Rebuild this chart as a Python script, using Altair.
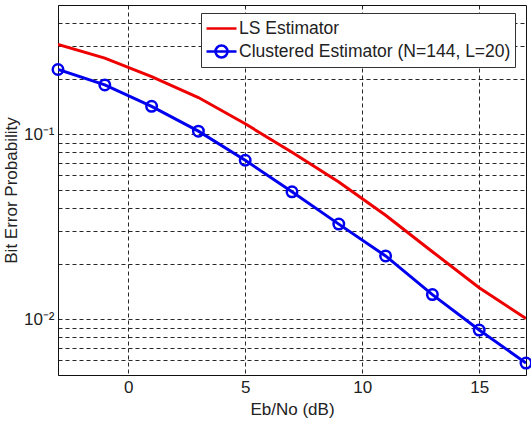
import altair as alt
import pandas as pd

# ---- data ----
ebno = [-3, -1, 1, 3, 5, 7, 9, 11, 13, 15, 17]
ber_ls = [0.306, 0.258, 0.205, 0.158, 0.114, 0.080, 0.0553, 0.0365, 0.0232, 0.0148, 0.0101]
ber_clustered = [0.224, 0.185, 0.1416, 0.104, 0.0724, 0.0489, 0.0327, 0.0220, 0.0136, 0.00875, 0.0058]
series_names = ["LS Estimator", "Clustered Estimator (N=144, L=20)"]
series_colors = ["#ee0000", "#0000ee"]
x_ticks = [0, 5, 10, 15]
y_grid = [0.005, 0.006, 0.007, 0.008, 0.009, 0.01, 0.02, 0.03, 0.04, 0.05,
          0.06, 0.07, 0.08, 0.09, 0.1, 0.2, 0.3, 0.4, 0.5]

df = pd.DataFrame({
    "ebno": ebno + ebno,
    "ber": ber_ls + ber_clustered,
    "series": [series_names[0]] * len(ebno) + [series_names[1]] * len(ebno),
})
df_cl = df[df["series"] == series_names[1]]

FONT = "Liberation Sans"
TXT = "#222222"

color_scale = alt.Scale(domain=series_names, range=series_colors)
leg_shapes = [
    "M-1.5,0L1.5,0",
    "M-1.5,0L1.5,0M-0.6,0A0.6,0.6,0,1,1,0.6,0A0.6,0.6,0,1,1,-0.6,0",
]
legend_spec = alt.Legend(title=None, orient="none", legendX=143, legendY=8)

x_enc = alt.X("ebno:Q", scale=alt.Scale(domain=[-3, 17], nice=False, zero=False),
              axis=alt.Axis(values=x_ticks, title="Eb/No (dB)", labelFontSize=17,
                            titleFontSize=17, labelPadding=4, titlePadding=6,
                            grid=True, ticks=False, domain=False))
y_enc = alt.Y("ber:Q", scale=alt.Scale(type="log", domain=[0.005, 0.5], nice=False),
              axis=alt.Axis(values=y_grid, title="Bit Error Probability",
                            labelExpr="datum.value == 0.1 ? '10⁻¹' : (datum.value == 0.01 ? '10⁻²' : '')",
                            labelFontSize=17, titleFontSize=17, labelPadding=4,
                            titlePadding=3, grid=True, ticks=False, domain=False))

legend_layer = alt.Chart(df).mark_point(filled=False, opacity=0).encode(
    x=x_enc, y=y_enc,
    color=alt.Color("series:N", scale=color_scale, legend=legend_spec),
    shape=alt.Shape("series:N", scale=alt.Scale(domain=series_names, range=leg_shapes),
                    legend=legend_spec),
)

lines = alt.Chart(df).mark_line(strokeWidth=3, clip=True).encode(
    x="ebno:Q", y="ber:Q",
    color=alt.Color("series:N", scale=color_scale, legend=legend_spec),
)

points = alt.Chart(df_cl).mark_point(shape="circle", filled=False, size=110,
                                     strokeWidth=2.5, opacity=1, clip=False).encode(
    x="ebno:Q", y="ber:Q",
    color=alt.Color("series:N", scale=color_scale, legend=legend_spec),
)

chart = alt.layer(legend_layer, lines, points).properties(
    width=468, height=370,
    padding={"left": 58, "top": 5, "right": 5, "bottom": 51},
    autosize=alt.AutoSizeParams(type="none"),
).configure(
    font=FONT,
    background="white",
).configure_view(
    stroke="#111111", strokeWidth=1,
).configure_axis(
    labelFont=FONT, titleFont=FONT, labelColor=TXT, titleColor=TXT,
    titleFontWeight="normal",
    gridColor="#111111", gridDash=[4, 3], gridWidth=1, gridOpacity=0.9,
).configure_legend(
    labelFont=FONT, labelFontSize=17.5, labelColor=TXT, labelLimit=0,
    fillColor="white", strokeColor="#333333", padding=4,
    symbolSize=400, symbolStrokeWidth=2.5, symbolOffset=5, labelOffset=6,
    rowPadding=3, symbolOpacity=1, symbolFillColor="transparent",
)

chart.save("out.html", embed_options={"renderer": "svg", "actions": False})
